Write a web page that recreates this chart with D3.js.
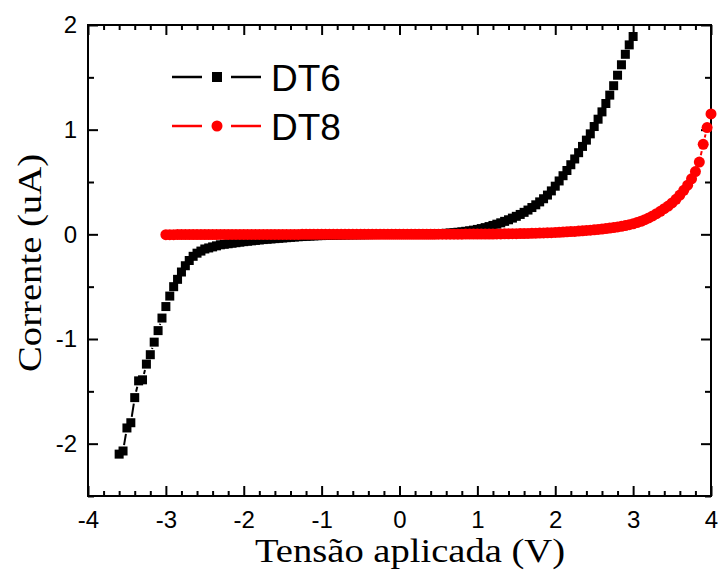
<!DOCTYPE html>
<html>
<head>
<meta charset="utf-8">
<script src="https://cdn.jsdelivr.net/npm/d3@7/dist/d3.min.js"></script>
<style>
  html, body { margin: 0; padding: 0; background: #fff; }
  svg { display: block; }
</style>
</head>
<body>
<svg id="chart" width="718" height="576"></svg>
<script>
// I–V sweeps of two devices (current in uA vs applied voltage in V)
const dt6Voltage = [
  -3.60,-3.55,-3.50,-3.45,-3.40,-3.35,-3.30,-3.25,-3.20,-3.15,
  -3.10,-3.05,-3.00,-2.95,-2.90,-2.85,-2.80,-2.75,-2.70,-2.65,
  -2.60,-2.55,-2.50,-2.45,-2.40,-2.35,-2.30,-2.25,-2.20,-2.15,
  -2.10,-2.05,-2.00,-1.95,-1.90,-1.85,-1.80,-1.75,-1.70,-1.65,
  -1.60,-1.55,-1.50,-1.45,-1.40,-1.35,-1.30,-1.25,-1.20,-1.15,
  -1.10,-1.05,-1.00,-0.95,-0.90,-0.85,-0.80,-0.75,-0.70,-0.65,
  -0.60,-0.55,-0.50,-0.45,-0.40,-0.35,-0.30,-0.25,-0.20,-0.15,
  -0.10,-0.05,0.00,0.05,0.10,0.15,0.20,0.25,0.30,0.35,
  0.40,0.45,0.50,0.55,0.60,0.65,0.70,0.75,0.80,0.85,
  0.90,0.95,1.00,1.05,1.10,1.15,1.20,1.25,1.30,1.35,
  1.40,1.45,1.50,1.55,1.60,1.65,1.70,1.75,1.80,1.85,
  1.90,1.95,2.00,2.05,2.10,2.15,2.20,2.25,2.30,2.35,
  2.40,2.45,2.50,2.55,2.60,2.65,2.70,2.75,2.80,2.85,
  2.90,2.95,3.00
];
const dt6Current = [
  -2.10,-2.07,-1.85,-1.80,-1.56,-1.40,-1.39,-1.24,-1.15,-1.03,
  -0.92,-0.80,-0.69,-0.59,-0.50,-0.43,-0.36,-0.30,-0.25,-0.21,
  -0.18,-0.16,-0.14,-0.13,-0.12,-0.11,-0.10,-0.095,-0.09,-0.085,
  -0.08,-0.075,-0.07,-0.066,-0.062,-0.058,-0.054,-0.05,-0.047,-0.044,
  -0.041,-0.038,-0.035,-0.032,-0.029,-0.026,-0.023,-0.021,-0.019,-0.017,
  -0.015,-0.013,-0.012,-0.011,-0.010,-0.009,-0.008,-0.007,-0.006,-0.005,
  -0.005,-0.004,-0.004,-0.003,-0.003,-0.002,-0.002,-0.001,-0.001,-0.001,
  0.000,0.000,0.000,0.000,0.001,0.001,0.001,0.002,0.002,0.003,
  0.004,0.005,0.006,0.008,0.010,0.013,0.016,0.020,0.024,0.029,
  0.034,0.040,0.047,0.055,0.064,0.074,0.085,0.097,0.110,0.124,
  0.139,0.155,0.172,0.190,0.210,0.232,0.256,0.282,0.310,0.340,
  0.375,0.415,0.46,0.51,0.56,0.61,0.665,0.72,0.78,0.84,
  0.90,0.96,1.03,1.10,1.17,1.25,1.33,1.42,1.52,1.62,
  1.72,1.81,1.89
];

const dt8Voltage = [
  -3.00,-2.95,-2.90,-2.85,-2.80,-2.75,-2.70,-2.65,-2.60,-2.55,
  -2.50,-2.45,-2.40,-2.35,-2.30,-2.25,-2.20,-2.15,-2.10,-2.05,
  -2.00,-1.95,-1.90,-1.85,-1.80,-1.75,-1.70,-1.65,-1.60,-1.55,
  -1.50,-1.45,-1.40,-1.35,-1.30,-1.25,-1.20,-1.15,-1.10,-1.05,
  -1.00,-0.95,-0.90,-0.85,-0.80,-0.75,-0.70,-0.65,-0.60,-0.55,
  -0.50,-0.45,-0.40,-0.35,-0.30,-0.25,-0.20,-0.15,-0.10,-0.05,
  0.00,0.05,0.10,0.15,0.20,0.25,0.30,0.35,0.40,0.45,
  0.50,0.55,0.60,0.65,0.70,0.75,0.80,0.85,0.90,0.95,
  1.00,1.05,1.10,1.15,1.20,1.25,1.30,1.35,1.40,1.45,
  1.50,1.55,1.60,1.65,1.70,1.75,1.80,1.85,1.90,1.95,
  2.00,2.05,2.10,2.15,2.20,2.25,2.30,2.35,2.40,2.45,
  2.50,2.55,2.60,2.65,2.70,2.75,2.80,2.85,2.90,2.95,
  3.00,3.05,3.10,3.15,3.20,3.25,3.30,3.35,3.40,3.45,
  3.50,3.55,3.60,3.65,3.70,3.75,3.80,3.85,3.90,3.95,
  4.00
];
const dt8Current = [
  -0.003,-0.003,-0.003,-0.002,-0.002,-0.002,-0.002,-0.002,-0.002,-0.002,
  -0.002,-0.002,-0.002,-0.002,-0.001,-0.001,-0.001,-0.001,-0.001,-0.001,
  -0.001,-0.001,-0.001,-0.001,-0.001,-0.001,-0.001,-0.001,-0.001,-0.001,
  -0.001,-0.001,-0.001,-0.001,-0.001,0.000,0.000,0.000,0.000,0.000,
  0.000,0.000,0.000,0.000,0.000,0.000,0.000,0.000,0.000,0.000,
  0.000,0.000,0.000,0.000,0.000,0.000,0.000,0.000,0.000,0.000,
  0.000,0.000,0.000,0.000,0.000,0.000,0.000,0.000,0.000,0.000,
  0.001,0.001,0.001,0.001,0.001,0.001,0.001,0.002,0.002,0.002,
  0.002,0.002,0.003,0.003,0.003,0.004,0.004,0.005,0.005,0.006,
  0.006,0.007,0.008,0.009,0.010,0.011,0.012,0.013,0.015,0.016,
  0.018,0.020,0.022,0.024,0.026,0.028,0.031,0.034,0.037,0.040,
  0.043,0.047,0.051,0.055,0.060,0.065,0.071,0.077,0.084,0.092,
  0.100,0.112,0.125,0.140,0.157,0.176,0.197,0.220,0.245,0.270,
  0.300,0.335,0.375,0.420,0.470,0.530,0.600,0.690,0.860,1.020,
  1.150
];

const xTickValues = [-4, -3, -2, -1, 0, 1, 2, 3, 4];
const yTickValues = [-2, -1, 0, 1, 2];
const seriesNames = ["DT6", "DT8"];
const xTitle = "Tensão aplicada (V)";
const yTitle = "Corrente (uA)";

(function () {
  const svg = d3.select("#chart");
  const plotLeft = 88, plotRight = 711, plotTop = 25, plotBottom = 496;

  const x = d3.scaleLinear().domain([-4, 4]).range([plotLeft, plotRight]);
  const y = d3.scaleLinear().domain([-2.5, 2]).range([plotBottom, plotTop]);

  const sans = "'Liberation Sans', Arial, sans-serif";
  const serif = "'Liberation Serif', 'Times New Roman', serif";
  const plainNumber = d => String(d);   // ASCII hyphen for negatives

  // minor tick positions
  const xMinor = d3.range(-4, 4.0001, 0.2).map(v => +v.toFixed(2))
    .filter(v => Math.abs(v - Math.round(v)) > 1e-6);
  const yMinor = [-2.5, -1.5, -0.5, 0.5, 1.5];

  function styleAxis(g) {
    g.select(".domain").remove();
    g.selectAll(".tick line").attr("stroke", "#000").attr("stroke-width", 2);
    g.selectAll("text").attr("font-family", sans).attr("font-size", 24).attr("fill", "#000");
  }

  // bottom axis with labels
  svg.append("g").attr("transform", `translate(0,${plotBottom})`)
    .call(d3.axisBottom(x).tickValues(xTickValues).tickSizeInner(-10).tickSizeOuter(0).tickPadding(15).tickFormat(plainNumber))
    .call(styleAxis);
  svg.append("g").attr("transform", `translate(0,${plotBottom})`)
    .call(d3.axisBottom(x).tickValues(xMinor).tickSizeInner(-5).tickSizeOuter(0).tickFormat(""))
    .call(styleAxis);
  // top axis
  svg.append("g").attr("transform", `translate(0,${plotTop})`)
    .call(d3.axisTop(x).tickValues(xTickValues).tickSizeInner(-10).tickSizeOuter(0).tickFormat(""))
    .call(styleAxis);
  svg.append("g").attr("transform", `translate(0,${plotTop})`)
    .call(d3.axisTop(x).tickValues(xMinor).tickSizeInner(-5).tickSizeOuter(0).tickFormat(""))
    .call(styleAxis);
  // left axis with labels
  svg.append("g").attr("transform", `translate(${plotLeft},0)`)
    .call(d3.axisLeft(y).tickValues(yTickValues).tickSizeInner(-10).tickSizeOuter(0).tickPadding(11).tickFormat(plainNumber))
    .call(styleAxis);
  svg.append("g").attr("transform", `translate(${plotLeft},0)`)
    .call(d3.axisLeft(y).tickValues(yMinor).tickSizeInner(-6).tickSizeOuter(0).tickFormat(""))
    .call(styleAxis);
  // right axis
  svg.append("g").attr("transform", `translate(${plotRight},0)`)
    .call(d3.axisRight(y).tickValues(yTickValues).tickSizeInner(-10).tickSizeOuter(0).tickFormat(""))
    .call(styleAxis);
  svg.append("g").attr("transform", `translate(${plotRight},0)`)
    .call(d3.axisRight(y).tickValues(yMinor).tickSizeInner(-6).tickSizeOuter(0).tickFormat(""))
    .call(styleAxis);

  // frame
  svg.append("rect")
    .attr("x", plotLeft).attr("y", plotTop)
    .attr("width", plotRight - plotLeft).attr("height", plotBottom - plotTop)
    .attr("fill", "none").attr("stroke", "#000").attr("stroke-width", 2);

  // axis titles
  svg.append("text")
    .attr("x", 410).attr("y", 562)
    .attr("text-anchor", "middle")
    .attr("font-family", serif).attr("font-size", 34)
    .attr("textLength", 310).attr("lengthAdjust", "spacingAndGlyphs")
    .text(xTitle);
  svg.append("text")
    .attr("transform", `translate(41,263) rotate(-90)`)
    .attr("text-anchor", "middle")
    .attr("font-family", serif).attr("font-size", 34)
    .attr("textLength", 218).attr("lengthAdjust", "spacingAndGlyphs")
    .text(yTitle);

  // series: line segments broken around each symbol, then the symbols
  const plot = svg.append("g");

  function drawSeries(volts, amps, color, shape, gap) {
    const pts = volts.map((v, i) => [x(v), y(amps[i])]);
    const segs = [];
    for (let i = 0; i < pts.length - 1; i++) {
      const [x1, y1] = pts[i], [x2, y2] = pts[i + 1];
      const d = Math.hypot(x2 - x1, y2 - y1);
      if (d > 2 * gap + 1) {
        const ux = (x2 - x1) / d, uy = (y2 - y1) / d;
        segs.push([x1 + ux * gap, y1 + uy * gap, x2 - ux * gap, y2 - uy * gap]);
      }
    }
    plot.append("g").selectAll("line").data(segs).join("line")
      .attr("x1", d => d[0]).attr("y1", d => d[1])
      .attr("x2", d => d[2]).attr("y2", d => d[3])
      .attr("stroke", color).attr("stroke-width", 2);
    const g = plot.append("g");
    if (shape === "square") {
      g.selectAll("rect").data(pts).join("rect")
        .attr("x", d => d[0] - 4.5).attr("y", d => d[1] - 4.5)
        .attr("width", 9).attr("height", 9).attr("fill", color);
    } else {
      g.selectAll("circle").data(pts).join("circle")
        .attr("cx", d => d[0]).attr("cy", d => d[1]).attr("r", 5.5).attr("fill", color);
    }
  }

  drawSeries(dt6Voltage, dt6Current, "#000", "square", 6);
  drawSeries(dt8Voltage, dt8Current, "#ff0000", "circle", 7);

  // legend
  const legend = svg.append("g");
  const legendRows = [
    { name: seriesNames[0], color: "#000", shape: "square", cy: 77 },
    { name: seriesNames[1], color: "#ff0000", shape: "circle", cy: 126 }
  ];
  legendRows.forEach(r => {
    legend.append("line").attr("x1", 172).attr("x2", 202).attr("y1", r.cy).attr("y2", r.cy)
      .attr("stroke", r.color).attr("stroke-width", 2.5);
    legend.append("line").attr("x1", 231).attr("x2", 261).attr("y1", r.cy).attr("y2", r.cy)
      .attr("stroke", r.color).attr("stroke-width", 2.5);
    if (r.shape === "square") {
      legend.append("rect").attr("x", 212).attr("y", r.cy - 5).attr("width", 10).attr("height", 10).attr("fill", r.color);
    } else {
      legend.append("circle").attr("cx", 217).attr("cy", r.cy).attr("r", 5.5).attr("fill", r.color);
    }
    legend.append("text").attr("x", 271).attr("y", r.cy + 14)
      .attr("font-family", sans).attr("font-size", 37).attr("fill", "#000")
      .text(r.name);
  });
})();
</script>
</body>
</html>
